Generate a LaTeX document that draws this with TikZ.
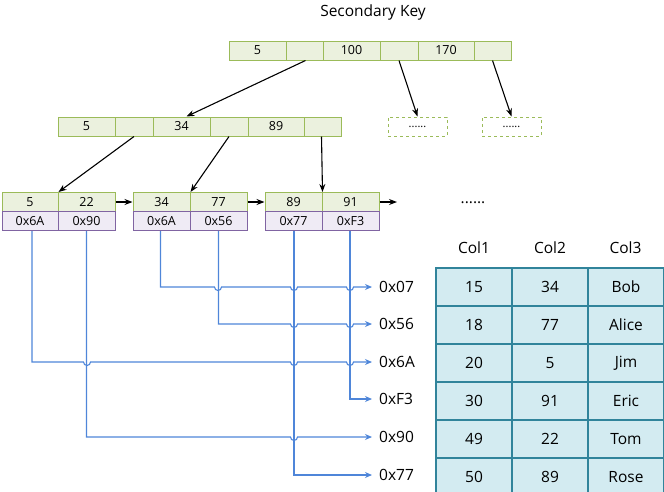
\documentclass[tikz,border=0pt]{standalone}
\usepackage{fontspec}
\setmainfont{Open Sans}
\usetikzlibrary{arrows.meta}
\definecolor{gf}{HTML}{EBF1DE}\definecolor{gd}{HTML}{9BBB59}
\definecolor{pf}{HTML}{EFEBF5}\definecolor{pd}{HTML}{8064A2}
\definecolor{tf}{HTML}{D3EBF1}\definecolor{td}{HTML}{31849B}
\definecolor{bl}{HTML}{4F86D9}
\begin{document}
\begin{tikzpicture}[x=1pt,y=-1pt,
 g/.style={draw=gd,fill=gf,line width=1pt,minimum height=19pt,inner sep=0pt,font=\fontsize{12.5}{13}\selectfont},
 p/.style={draw=pd,fill=pf,line width=1pt,minimum height=19pt,inner sep=0pt,font=\fontsize{12.5}{13}\selectfont},
 dd/.style={draw=gd,dashed,line width=1pt,minimum height=19pt,minimum width=59pt,inner sep=0pt,font=\fontsize{11}{12}\selectfont},
 t/.style={draw=td,fill=tf,line width=1.2pt,minimum height=38pt,minimum width=76pt,inner sep=0pt,font=\fontsize{15.5}{17}\selectfont},
 lb/.style={font=\fontsize{15.5}{17}\selectfont},
 ar/.style={-{Stealth[length=8pt,width=6pt]},line width=1.1pt},
 ba/.style={draw=bl,line width=1.1pt,-{Stealth[length=7pt,width=6pt]}}]
\useasboundingbox (0,0) rectangle (664,491);
\node[lb] (title) at (373,12) {Secondary Key};
\foreach \a/\b/\t/\n in {229/286/5/t1,286/323//t2,323/380/100/t3,380/418//t4,418/474/170/t5,474/511//t6}
 \node[g,minimum width=\b-\a] (\n) at ({(\a+\b)/2},50.5) {\t};
\foreach \a/\b/\t/\n in {58/115/5/m1,115/153//m2,153/210/34/m3,210/248//m4,248/304/89/m5,304/341//m6}
 \node[g,minimum width=\b-\a] (\n) at ({(\a+\b)/2},126.5) {\t};
\node[dd] (d1) at (417.5,126.5) {......};
\node[dd] (d2) at (511.5,126.5) {......};
\foreach \a/\b/\t/\u/\n in {2/58/5/0x6A/a1,58/115/22/0x90/a2,133/190/34/0x6A/b1,190/247/77/0x56/b2,265/322/89/0x77/c1,322/379/91/0xF3/c2}{
 \node[g,minimum width=\b-\a] (\n) at ({(\a+\b)/2},202) {\t};
 \node[p,minimum width=\b-\a] (\n p) at ({(\a+\b)/2},221) {\u};}
\node[font=\fontsize{15.5}{17}\selectfont] (dots) at (473,203) {......};
\coordinate (e) at (397,202);
\draw[ar] ([xshift=-18pt]t2.south east) -- ([xshift=-24pt]m3.north east);
\draw[ar] (t4.south) -- (d1.north);
\draw[ar] (t6.south) -- (d2.north);
\draw[ar] (m2.south) -- (a1.north east);
\draw[ar] (m4.south) -- (b1.north east);
\draw[ar] ([xshift=18pt]m6.south west) -- (c1.north east);
\draw[ar] (a2.east) -- (b1.west);
\draw[ar] (b2.east) -- (c1.west);
\draw[ar] (c2.east) -- (e);
\foreach \y/\t/\n in {287/0x07/r1,324/0x56/r2,362/0x6A/r3,399/0xF3/r4,437/0x90/r5,475/0x77/r6}
 \node[lb,anchor=west,inner sep=0pt] (\n) at (379,\y) {\t};
\tikzset{to/.style={xshift=-7pt}}
\draw[ba] ([xshift=-1pt]b1p.south) |- (214.5,287) arc[start angle=180,end angle=0,radius=3.5] -- (290.5,287) arc[start angle=180,end angle=0,radius=3.5] -- (346.5,287) arc[start angle=180,end angle=0,radius=3.5] -- ([to]r1.west);
\draw[ba] (b2p.south) |- (290.5,324) arc[start angle=180,end angle=0,radius=3.5] -- (346.5,324) arc[start angle=180,end angle=0,radius=3.5] -- ([to]r2.west);
\draw[ba] ([xshift=2pt]a1p.south) |- (83.5,362) arc[start angle=180,end angle=0,radius=3.5] -- (290.5,362) arc[start angle=180,end angle=0,radius=3.5] -- (346.5,362) arc[start angle=180,end angle=0,radius=3.5] -- ([to]r3.west);
\draw[ba] ([xshift=-0.5pt]c2p.south) |- ([to]r4.west);
\draw[ba] (a2p.south) |- (290.5,437) arc[start angle=180,end angle=0,radius=3.5] -- ([to]r5.west);
\draw[ba] ([xshift=0.5pt]c1p.south) |- ([to]r6.west);
\foreach \x/\h in {474/Col1,550/Col2,625.5/Col3} \node[lb] at (\x,248) {\h};
\foreach \r/\a/\b/\c [count=\i] in {1/15/34/Bob,2/18/77/Alice,3/20/5/Jim,4/30/91/Eric,5/49/22/Tom,6/50/89/Rose}{
 \node[t] (x\i) at (474,{268+38*\i-19}) {\a};
 \node[t] (y\i) at (550,{268+38*\i-19}) {\b};
 \node[t] (z\i) at (626,{268+38*\i-19}) {\c};}
\end{tikzpicture}
\end{document}
